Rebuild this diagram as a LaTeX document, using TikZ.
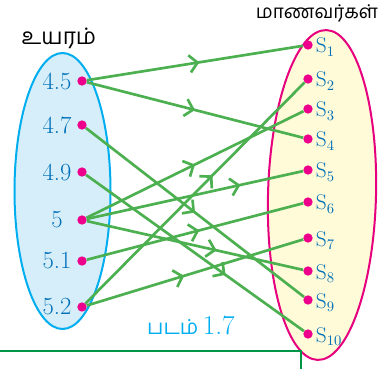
\documentclass[tikz,border=0pt]{standalone}
\usepackage{fontspec}
\newfontfamily\tamilfont[Script=Tamil]{Hind Madurai}
\usetikzlibrary{arrows.meta,positioning,decorations.markings}
\definecolor{mapgreen}{RGB}{76,176,80}
\definecolor{dotpink}{RGB}{236,0,140}
\definecolor{lblblue}{RGB}{0,112,184}
\definecolor{hgtedge}{RGB}{0,174,239}
\definecolor{hgtfill}{RGB}{214,238,250}
\definecolor{stdedge}{RGB}{230,0,126}
\definecolor{stdfill}{RGB}{255,250,215}
\definecolor{boxgreen}{RGB}{0,150,70}
\tikzset{
  vtx/.style={circle,fill=dotpink,inner sep=0pt,minimum size=7pt},
  numlbl/.style={text=lblblue,inner sep=0pt,font=\fontsize{18.5}{22}\selectfont},
  slbl/.style={text=lblblue,inner sep=0pt,font=\fontsize{16}{19}\selectfont},
  settitle/.style={font=\tamilfont\fontsize{17}{20}\selectfont,inner sep=0pt},
  mapline/.style={draw=mapgreen,line width=2pt,postaction={decorate},
    decoration={markings,mark=at position #1 with {\arrow{Straight Barb[length=6pt,width=13pt]}}}},
  mapline/.default=0.5,
}
\begin{document}
\begin{tikzpicture}[x=0.75pt,y=0.75pt]
\useasboundingbox (0,0) rectangle (389,368);
% the two sets
\draw[draw=hgtedge,fill=hgtfill,line width=1.5pt] (62.5,177) ellipse [x radius=48,y radius=138];
\draw[draw=stdedge,fill=stdfill,line width=1.5pt,rotate around={-1.5:(322,173)}] (322,173) ellipse [x radius=54,y radius=165];
\node[settitle] (hgttitle) at (59,330) {உயரம்};
\node[settitle,font=\tamilfont\fontsize{14.2}{17}\selectfont] (stdtitle) at (317,355) {மாணவர்கள்};
% heights
\node[vtx] (h45) at (82,287) {};
\node[vtx] (h47) at (82,243) {};
\node[vtx] (h49) at (82,196) {};
\node[vtx] (h5) at (82,148) {};
\node[vtx] (h51) at (82,107) {};
\node[vtx] (h52) at (82,61) {};
\node[numlbl] (l45) at (57,287) {4.5};
\node[numlbl] (l47) at (57,243) {4.7};
\node[numlbl] (l49) at (57,196) {4.9};
\node[numlbl] (l5) at (57,148) {5};
\node[numlbl] (l51) at (57,107) {5.1};
\node[numlbl] (l52) at (57,61) {5.2};
% students
\node[vtx] (s1) at (308,323) {};
\node[vtx] (s2) at (308,289) {};
\node[vtx] (s3) at (308,259) {};
\node[vtx] (s4) at (308,229) {};
\node[vtx] (s5) at (308,198) {};
\node[vtx] (s6) at (308,166) {};
\node[vtx] (s7) at (308,130) {};
\node[vtx] (s8) at (308,97) {};
\node[vtx] (s9) at (308,68) {};
\node[vtx] (s10) at (308,34) {};
\node[slbl,right=2pt of s1,anchor=base west,yshift=-6pt] (t1) {$\mathrm{S}_{1}$};
\node[slbl,right=2pt of s2,anchor=base west,yshift=-6pt] (t2) {$\mathrm{S}_{2}$};
\node[slbl,right=2pt of s3,anchor=base west,yshift=-6pt] (t3) {$\mathrm{S}_{3}$};
\node[slbl,right=2pt of s4,anchor=base west,yshift=-6pt] (t4) {$\mathrm{S}_{4}$};
\node[slbl,right=2pt of s5,anchor=base west,yshift=-6pt] (t5) {$\mathrm{S}_{5}$};
\node[slbl,right=2pt of s6,anchor=base west,yshift=-6pt] (t6) {$\mathrm{S}_{6}$};
\node[slbl,right=2pt of s7,anchor=base west,yshift=-6pt] (t7) {$\mathrm{S}_{7}$};
\node[slbl,right=2pt of s8,anchor=base west,yshift=-6pt] (t8) {$\mathrm{S}_{8}$};
\node[slbl,right=2pt of s9,anchor=base west,yshift=-6pt] (t9) {$\mathrm{S}_{9}$};
\node[slbl,right=2pt of s10,anchor=base west,yshift=-6pt] (t10) {$\mathrm{S}_{10}$};
% mapping
\draw[mapline=0.52] (h45) -- (s1);
\draw[mapline=0.5] (h45) -- (s4);
\draw[mapline=0.5] (h47) -- (s9);
\draw[mapline=0.64] (h49) -- (s10);
\draw[mapline=0.5] (h5) -- (s3);
\draw[mapline=0.71] (h5) -- (s5);
\draw[mapline=0.6] (h5) -- (s8);
\draw[mapline=0.52] (h51) -- (s6);
\draw[mapline=0.58] (h52) -- (s2);
\draw[mapline=0.45] (h52) -- (s7);
\node[text=hgtedge,inner sep=0pt] (caption) at (191,43) {{\tamilfont\fontsize{15.5}{18}\selectfont படம்} {\fontsize{20.5}{24}\selectfont 1.7}};
\draw[boxgreen,line width=1.5pt] (-2,17) -- (301,17) -- (301,-2);
\end{tikzpicture}
\end{document}
